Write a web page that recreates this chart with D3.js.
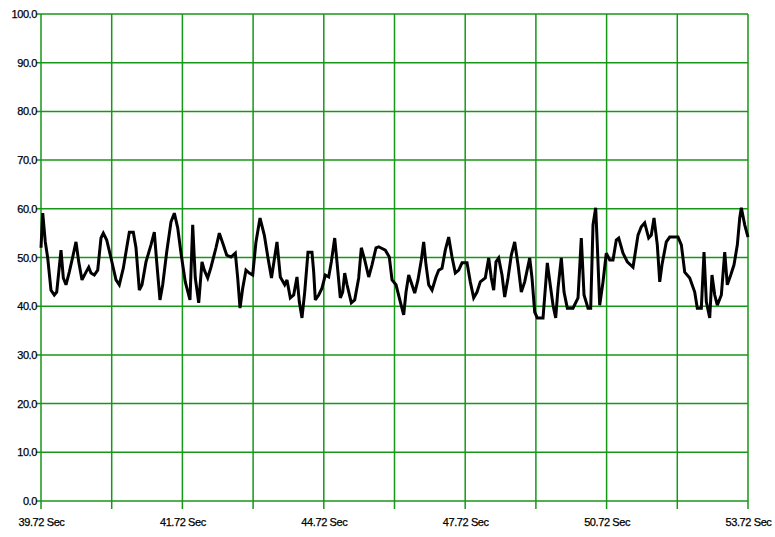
<!DOCTYPE html>
<html>
<head>
<meta charset="utf-8">
<script src="https://cdn.jsdelivr.net/npm/d3@7"></script>
<style>
  html, body { margin: 0; padding: 0; background: #fff; }
  svg { display: block; }
  .lbl { font-family: "Liberation Sans", Arial, sans-serif; font-size: 11px; fill: #000; letter-spacing: -0.4px; stroke: #000; stroke-width: 0.25px; }
</style>
</head>
<body>
<svg id="chart" width="775" height="537"></svg>
<script>
// Sample times (seconds) and signal values
const times = [
  39.720, 39.754, 39.805, 39.853, 39.918, 39.983, 40.031, 40.116, 40.162, 40.215,
  40.280, 40.348, 40.413, 40.467, 40.532, 40.611, 40.665, 40.710, 40.775, 40.843,
  40.908, 40.954, 41.021, 41.106, 41.205, 41.270, 41.350, 41.417, 41.469, 41.548,
  41.601, 41.667, 41.720, 41.799, 41.898, 41.964, 42.011, 42.076, 42.130, 42.209,
  42.294, 42.360, 42.427, 42.492, 42.577, 42.670, 42.724, 42.775, 42.843, 42.908,
  42.954, 43.021, 43.086, 43.185, 43.251, 43.318, 43.397, 43.482, 43.568, 43.615,
  43.661, 43.714, 43.779, 43.845, 43.912, 43.977, 44.057, 44.142, 44.215, 44.284,
  44.393, 44.459, 44.546, 44.591, 44.657, 44.724, 44.789, 44.835, 44.888, 44.942,
  45.007, 45.086, 45.120, 45.152, 45.219, 45.284, 45.350, 45.417, 45.469, 45.536,
  45.581, 45.647, 45.694, 45.734, 45.780, 45.865, 45.932, 46.011, 46.063, 46.130,
  46.209, 46.275, 46.354, 46.407, 46.538, 46.617, 46.671, 46.750, 46.835, 46.902,
  46.948, 47.001, 47.053, 47.120, 47.185, 47.251, 47.298, 47.344, 47.397, 47.463,
  47.542, 47.595, 47.661, 47.726, 47.793, 47.859, 47.924, 47.992, 48.057, 48.156,
  48.221, 48.288, 48.354, 48.419, 48.518, 48.585, 48.637, 48.684, 48.730, 48.783,
  48.849, 48.902, 48.968, 49.033, 49.100, 49.166, 49.231, 49.298, 49.397, 49.443,
  49.496, 49.548, 49.661, 49.707, 49.746, 49.813, 49.859, 49.912, 49.958, 50.023,
  50.077, 50.142, 50.255, 50.354, 50.419, 50.473, 50.552, 50.605, 50.651, 50.704,
  50.736, 50.783, 50.849, 50.914, 50.982, 51.047, 51.112, 51.160, 51.245, 51.330,
  51.443, 51.542, 51.607, 51.674, 51.753, 51.805, 51.859, 51.924, 51.972, 52.017,
  52.102, 52.170, 52.334, 52.400, 52.467, 52.566, 52.665, 52.716, 52.796, 52.849,
  52.895, 52.962, 53.007, 53.061, 53.112, 53.192, 53.259, 53.310, 53.378, 53.443,
  53.509, 53.556, 53.588, 53.655, 53.720
];
const values = [
  52.0, 59.1, 53.2, 49.9, 43.3, 42.3, 42.9, 51.5, 45.8, 44.4,
  47.0, 50.1, 53.2, 49.1, 45.4, 47.0, 48.0, 46.8, 46.4, 47.4,
  54.0, 55.0, 53.6, 49.9, 45.4, 44.4, 47.8, 52.0, 55.2, 55.2,
  52.0, 43.3, 44.4, 49.1, 52.6, 55.2, 49.1, 41.3, 44.4, 51.1,
  57.3, 59.1, 56.1, 50.9, 45.0, 41.3, 56.7, 45.8, 40.7, 49.1,
  47.4, 45.8, 48.0, 52.0, 55.0, 53.0, 50.5, 50.1, 50.9, 45.8,
  39.6, 43.7, 47.4, 46.8, 46.4, 53.2, 58.1, 54.6, 49.9, 45.8,
  53.2, 46.0, 44.4, 45.4, 41.7, 42.3, 46.0, 40.9, 37.6, 42.9,
  51.1, 51.1, 47.0, 41.3, 42.3, 43.7, 46.4, 46.0, 49.1, 54.0,
  49.1, 41.7, 42.9, 46.8, 44.4, 40.7, 41.3, 45.8, 52.0, 49.5,
  46.0, 48.5, 52.0, 52.2, 51.5, 50.1, 45.4, 44.4, 40.9, 38.2,
  42.9, 46.4, 44.8, 42.7, 45.4, 49.5, 53.2, 48.5, 44.4, 43.3,
  46.0, 47.4, 47.8, 51.5, 54.2, 50.1, 46.8, 47.4, 48.9, 48.9,
  45.0, 41.7, 42.9, 45.0, 45.8, 49.9, 45.8, 43.3, 49.1, 49.9,
  46.4, 41.9, 45.8, 50.5, 53.2, 48.5, 42.9, 45.0, 49.9, 45.8,
  38.8, 37.6, 37.6, 43.7, 48.9, 43.7, 40.2, 37.6, 43.7, 49.9,
  42.9, 39.6, 39.6, 41.7, 54.0, 42.3, 39.6, 39.6, 56.7, 60.2,
  52.6, 40.2, 45.0, 50.9, 49.5, 49.5, 53.6, 54.0, 50.9, 49.1,
  48.0, 54.6, 56.3, 57.1, 54.0, 54.6, 58.1, 52.6, 45.0, 48.5,
  53.2, 54.2, 54.2, 52.6, 47.0, 45.8, 42.9, 39.6, 39.6, 51.1,
  40.9, 37.6, 46.4, 42.3, 40.2, 42.3, 51.1, 44.4, 46.4, 48.5,
  52.6, 58.1, 60.2, 56.7, 54.2
];

// Axis ranges and labels
const timeDomain = [39.72, 53.72];
const timeGridStep = 1.4;
const timeTickLabels = ["39.72 Sec", "41.72 Sec", "44.72 Sec", "47.72 Sec", "50.72 Sec", "53.72 Sec"];
const valueDomain = [0, 100];
const valueTicks = [0, 10, 20, 30, 40, 50, 60, 70, 80, 90, 100];

const margin = { top: 14, right: 27, bottom: 36, left: 41 };
const W = 775, H = 537;
const width = W - margin.left - margin.right;
const height = H - margin.top - margin.bottom;

const svg = d3.select("#chart");
const g = svg.append("g").attr("transform", `translate(${margin.left},${margin.top})`);

const x = d3.scaleLinear().domain(timeDomain).range([0, width]);
const y = d3.scaleLinear().domain(valueDomain).range([height, 0]);

const gridColor = "#179717";
const gridTimes = d3.range(11).map(i => timeDomain[0] + i * timeGridStep);

// Horizontal grid lines with short ticks to the left
g.append("g").selectAll("line").data(valueTicks).join("line")
  .attr("x1", -5).attr("x2", width)
  .attr("y1", d => y(d)).attr("y2", d => y(d))
  .attr("stroke", gridColor).attr("stroke-width", 1.5);

// Vertical grid lines with short ticks below
g.append("g").selectAll("line").data(gridTimes).join("line")
  .attr("x1", d => x(d)).attr("x2", d => x(d))
  .attr("y1", 0).attr("y2", height + 8)
  .attr("stroke", gridColor).attr("stroke-width", 1.5);

// Value axis labels
const yAxis = d3.axisLeft(y).tickValues(valueTicks).tickFormat(d3.format(".1f")).tickSize(0).tickPadding(4);
const yg = g.append("g").call(yAxis);
yg.select(".domain").remove();
yg.selectAll("text").attr("class", "lbl").attr("font-family", null).attr("font-size", null).attr("fill", null);

// Time axis labels on every other grid line
const labelTimes = gridTimes.filter((d, i) => i % 2 === 0);
const xAxis = d3.axisBottom(x).tickValues(labelTimes)
  .tickFormat((d, i) => timeTickLabels[i]).tickSize(0).tickPadding(17);
const xg = g.append("g").attr("transform", `translate(0,${height})`).call(xAxis);
xg.select(".domain").remove();
xg.selectAll("text").attr("class", "lbl").attr("font-family", null).attr("font-size", null).attr("fill", null);

// Signal trace
const pts = times.map((t, i) => [t, values[i]]);
g.append("path")
  .datum(pts)
  .attr("fill", "none")
  .attr("stroke", "#000")
  .attr("stroke-width", 3)
  .attr("stroke-linejoin", "miter")
  .attr("stroke-miterlimit", 3)
  .attr("d", d3.line().x(d => x(d[0])).y(d => y(d[1])));
</script>
</body>
</html>
